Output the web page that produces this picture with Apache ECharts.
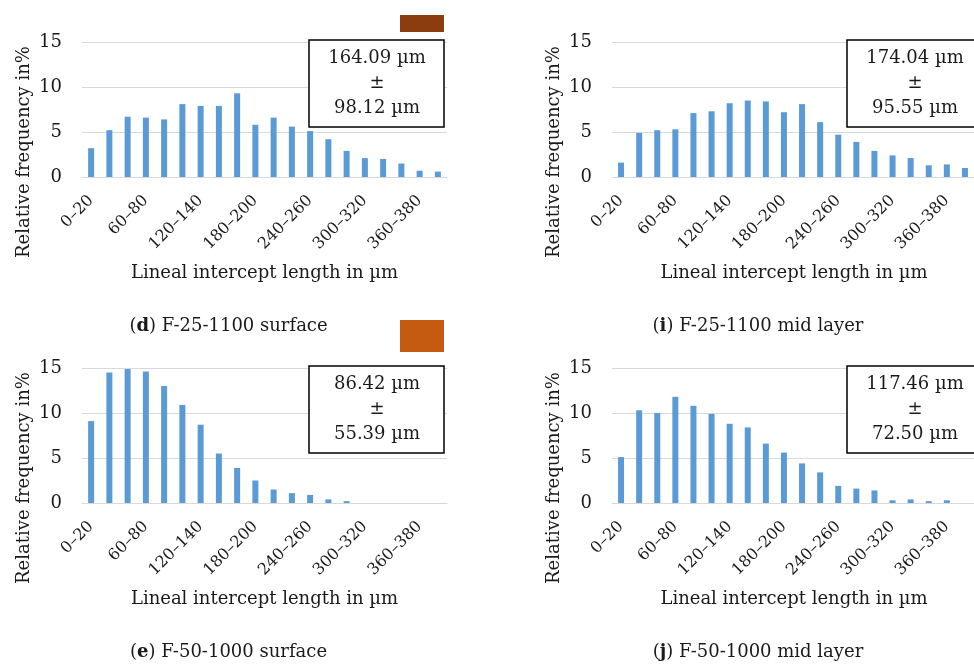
<!DOCTYPE html>
<html>
<head>
<meta charset="utf-8">
<script src="https://cdn.jsdelivr.net/npm/echarts@6/dist/echarts.min.js"></script>
<style>
  html, body { margin: 0; padding: 0; background: #fff; }
  #chart { width: 974px; height: 664px; }
</style>
</head>
<body>
<div id="chart"></div>
<script>
  // bins of lineal intercept length (µm)
  const categories = ['0–20', '20–40', '40–60', '60–80', '80–100', '100–120', '120–140', '140–160',
    '160–180', '180–200', '200–220', '220–240', '240–260', '260–280', '280–300', '300–320',
    '320–340', '340–360', '360–380', '380–400']
  const yMin = 0
  const yMax = 15
  const yStep = 5

  // relative frequency in %
  const surfaceF25 = [3.2, 5.2, 6.7, 6.6, 6.4, 8.1, 7.9, 7.9, 9.3, 5.8, 6.6, 5.6, 5.1, 4.2, 2.9, 2.1, 2.0, 1.5, 0.7, 0.6]
  const midF25 = [1.6, 4.9, 5.2, 5.3, 7.1, 7.3, 8.2, 8.5, 8.4, 7.2, 8.1, 6.1, 4.7, 3.9, 2.9, 2.4, 2.1, 1.3, 1.4, 1.0]
  const surfaceF50 = [9.1, 14.5, 14.9, 14.6, 13.0, 10.9, 8.7, 5.5, 3.9, 2.5, 1.5, 1.1, 0.9, 0.4, 0.2, 0, 0, 0, 0, 0]
  const midF50 = [5.1, 10.3, 10.0, 11.8, 10.8, 9.9, 8.8, 8.4, 6.6, 5.6, 4.4, 3.4, 1.9, 1.6, 1.4, 0.3, 0.4, 0.2, 0.3, 0]

  const means = ['164.09 µm', '174.04 µm', '86.42 µm', '117.46 µm']
  const stdDevs = ['98.12 µm', '95.55 µm', '55.39 µm', '72.50 µm']
  const captionLetters = ['d', 'i', 'e', 'j']
  const captions = ['F-25-1100 surface', 'F-25-1100 mid layer', 'F-50-1000 surface', 'F-50-1000 mid layer']

  const font = 'DejaVu Serif'
  const textColor = '#1a1a1a'
  const barColor = '#5B9BD5'
  const gridColor = '#D9D9D9'

  const panels = [
    { data: surfaceF25, left: 82, top: 42, width: 365, boxX: 309, boxW: 135 },
    { data: midF25, left: 612, top: 42, width: 364, boxX: 847, boxW: 134 },
    { data: surfaceF50, left: 82, top: 368, width: 365, boxX: 309, boxW: 135 },
    { data: midF50, left: 612, top: 368, width: 364, boxX: 847, boxW: 134 }
  ]
  const plotH = 135

  const grid = []
  const xAxis = []
  const yAxis = []
  const series = []
  const graphic = []

  panels.forEach((p, i) => {
    grid.push({ left: p.left, top: p.top, width: p.width, height: plotH })
    xAxis.push({
      type: 'category',
      gridIndex: i,
      data: categories,
      axisLine: { show: true, lineStyle: { color: gridColor, width: 1 } },
      axisTick: { show: false },
      axisLabel: {
        interval: 2,
        rotate: 45,
        margin: 21,
        fontFamily: font,
        fontSize: 16,
        color: textColor
      }
    })
    yAxis.push({
      type: 'value',
      gridIndex: i,
      min: yMin,
      max: yMax,
      interval: yStep,
      axisLine: { show: false },
      axisTick: { show: false },
      splitLine: { lineStyle: { color: gridColor, width: 1 } },
      axisLabel: { margin: 20, fontFamily: font, fontSize: 18, color: textColor }
    })
    series.push({
      type: 'bar',
      xAxisIndex: i,
      yAxisIndex: i,
      data: p.data,
      barWidth: 6,
      itemStyle: { color: barColor },
      silent: true
    })

    const cx = p.left + p.width / 2
    // y axis title
    graphic.push({
      type: 'text',
      x: p.left - 58,
      y: p.top + 110,
      rotation: Math.PI / 2,
      style: {
        text: 'Relative frequency in%',
        font: '18px "' + font + '"',
        fill: textColor,
        align: 'center',
        verticalAlign: 'middle'
      }
    })
    // x axis title
    graphic.push({
      type: 'text',
      x: cx,
      y: p.top + 231,
      style: {
        text: 'Lineal intercept length in µm',
        font: '18px "' + font + '"',
        fill: textColor,
        align: 'center',
        verticalAlign: 'middle'
      }
    })
    // caption
    graphic.push({
      type: 'text',
      x: cx - 36,
      y: p.top + 284,
      style: {
        text: '({b|' + captionLetters[i] + '}) ' + captions[i],
        font: '18px "' + font + '"',
        fill: textColor,
        align: 'center',
        verticalAlign: 'middle',
        rich: { b: { font: 'bold 18px "' + font + '"', fill: textColor } }
      }
    })
    // mean ± std box
    graphic.push({
      type: 'rect',
      shape: { x: p.boxX, y: p.top - 2, width: p.boxW, height: 87 },
      style: { fill: '#fff', stroke: '#000', lineWidth: 1.5 },
      z: 10
    })
    graphic.push({
      type: 'text',
      x: p.boxX + 68,
      y: p.top + 41,
      z: 11,
      style: {
        text: means[i] + '\n±\n' + stdDevs[i],
        font: '18px "' + font + '"',
        lineHeight: 25,
        fill: textColor,
        align: 'center',
        verticalAlign: 'middle'
      }
    })
  })

  // colour swatches left over from the source figure
  graphic.push({ type: 'rect', shape: { x: 400, y: 15, width: 44, height: 17 }, style: { fill: '#8B3D0F' } })
  graphic.push({ type: 'rect', shape: { x: 400, y: 320, width: 44, height: 32 }, style: { fill: '#C55A11' } })

  const chart = echarts.init(document.getElementById('chart'))
  chart.setOption({
    animation: false,
    grid: grid,
    xAxis: xAxis,
    yAxis: yAxis,
    series: series,
    graphic: graphic
  })
</script>
</body>
</html>
